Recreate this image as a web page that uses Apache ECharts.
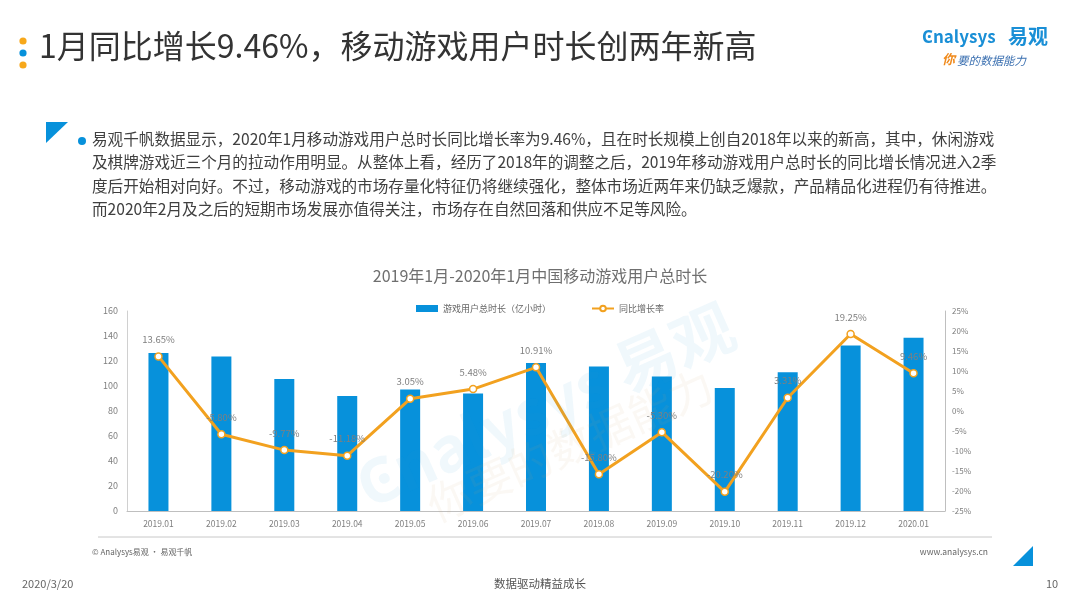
<!DOCTYPE html>
<html>
<head>
<meta charset="utf-8">
<script src="https://cdn.jsdelivr.net/npm/echarts@6/dist/echarts.min.js"></script>
<style>
  html, body { margin: 0; padding: 0; background: #fff; }
  #main { width: 1080px; height: 608px; }
</style>
</head>
<body>
<div id="main"></div>
<script>
// data
var months = ['2019.01', '2019.02', '2019.03', '2019.04', '2019.05', '2019.06', '2019.07',
              '2019.08', '2019.09', '2019.10', '2019.11', '2019.12', '2020.01'];
var hours = [126.4, 123.7, 105.6, 92.0, 97.3, 94.1, 118.4, 115.7, 107.7, 98.4, 111.0, 132.5, 138.6];
var growth = [13.65, -5.80, -9.77, -11.18, 3.05, 5.48, 10.91, -15.80, -5.30, -20.20, 3.31, 19.25, 9.46];
var leftTicks = { min: 0, max: 160, interval: 20 };
var rightTicks = { min: -25, max: 25, interval: 5 };

var para = [
  '易观千帆数据显示，2020年1月移动游戏用户总时长同比增长率为9.46%，且在时长规模上创自2018年以来的新高，其中，休闲游戏',
  '及棋牌游戏近三个月的拉动作用明显。从整体上看，经历了2018年的调整之后，2019年移动游戏用户总时长的同比增长情况进入2季',
  '度后开始相对向好。不过，移动游戏的市场存量化特征仍将继续强化，整体市场近两年来仍缺乏爆款，产品精品化进程仍有待推进。',
  '而2020年2月及之后的短期市场发展亦值得关注，市场存在自然回落和供应不足等风险。'
];

var font = '"Noto Sans CJK SC", "Noto Sans", sans-serif';
var blue = '#0791db';
var orange = '#f2a11f';
var gray = '#7f7f7f';

var paraText = para.map(function (t, i) {
  return {
    type: 'text', left: 92, top: 131 + i * 23.5,
    style: { text: t, fill: '#404040', font: '15.6px ' + font }
  };
});

var option = {
  animation: false,
  title: {
    text: '2019年1月-2020年1月中国移动游戏用户总时长',
    left: 'center', top: 263,
    textStyle: { fontFamily: font, fontSize: 16, fontWeight: 'normal', color: '#6f6f6f' }
  },
  legend: {
    top: 299, left: 'center',
    itemGap: 40, itemWidth: 22, itemHeight: 7,
    textStyle: { fontFamily: font, fontSize: 9, color: '#666' },
    data: [
      { name: '游戏用户总时长（亿小时）', icon: 'rect' },
      { name: '同比增长率' }
    ]
  },
  grid: { left: 127, right: 135, top: 311, bottom: 97 },
  xAxis: {
    type: 'category',
    data: months,
    axisLine: { lineStyle: { color: '#bfbfbf' } },
    axisTick: { show: false },
    axisLabel: { fontFamily: font, fontSize: 8.5, color: gray, margin: 9 }
  },
  yAxis: [
    {
      type: 'value', min: leftTicks.min, max: leftTicks.max, interval: leftTicks.interval,
      axisLine: { show: true, lineStyle: { color: '#d0d0d0' } },
      axisTick: { show: false },
      splitLine: { show: false },
      axisLabel: { fontFamily: font, fontSize: 9, color: gray, margin: 9 }
    },
    {
      type: 'value', min: rightTicks.min, max: rightTicks.max, interval: rightTicks.interval,
      axisLine: { show: true, lineStyle: { color: '#bfbfbf' } },
      axisTick: { show: false },
      splitLine: { show: false },
      axisLabel: { fontFamily: font, fontSize: 8, color: gray, margin: 7, formatter: '{value}%' }
    }
  ],
  series: [
    {
      name: '游戏用户总时长（亿小时）',
      type: 'bar',
      barWidth: 20,
      itemStyle: { color: blue },
      data: hours
    },
    {
      name: '同比增长率',
      type: 'line',
      yAxisIndex: 1,
      symbol: 'circle',
      symbolSize: 7,
      lineStyle: { color: orange, width: 3 },
      itemStyle: { color: '#fff', borderColor: orange, borderWidth: 1.5 },
      label: {
        show: true, position: 'top', distance: 8,
        fontFamily: font, fontSize: 9.5, color: gray,
        formatter: function (p) { return p.value.toFixed(2) + '%'; }
      },
      data: growth
    }
  ],
  graphic: [
    // header dots
    { type: 'circle', shape: { cx: 23, cy: 41, r: 3.6 }, style: { fill: '#f7a81b' } },
    { type: 'circle', shape: { cx: 23, cy: 53, r: 3.6 }, style: { fill: blue } },
    { type: 'circle', shape: { cx: 23, cy: 65, r: 3.6 }, style: { fill: '#f7a81b' } },
    {
      type: 'text', left: 39, top: 30,
      style: { text: '1月同比增长9.46%，移动游戏用户时长创两年新高', fill: '#333', font: '32px ' + font }
    },
    // logo
    {
      type: 'text', left: 922, top: 28,
      style: { text: 'Ͼnalysys', fill: '#1a8fd6', font: 'bold 17px ' + font }
    },
    {
      type: 'text', left: 1008, top: 26,
      style: { text: '易观', fill: '#1a8fd6', font: 'bold 20px ' + font }
    },
    {
      type: 'text', left: 942, top: 53,
      style: { text: '你', fill: '#f08a1c', font: 'italic bold 13px ' + font }
    },
    {
      type: 'text', left: 957, top: 55,
      style: { text: '要的数据能力', fill: '#3a6fb0', font: 'italic 11.5px ' + font }
    },
    // paragraph marker
    { type: 'polygon', shape: { points: [[46, 122], [68, 122], [46, 143]] }, style: { fill: blue } },
    { type: 'circle', shape: { cx: 82, cy: 141, r: 4 }, style: { fill: blue } }
  ].concat(paraText).concat([
    // watermark
    {
      type: 'text', x: 545, y: 405, rotation: 0.42, z: 50,
      style: { text: 'Ͼnalysys 易观', fill: 'rgba(40,150,215,0.07)', font: 'bold 62px ' + font, align: 'center', verticalAlign: 'middle' }
    },
    {
      type: 'text', x: 570, y: 445, rotation: 0.42, z: 50,
      style: { text: '你要的数据能力', fill: 'rgba(200,170,120,0.08)', font: '44px ' + font, align: 'center', verticalAlign: 'middle' }
    },
    // footer
    { type: 'line', shape: { x1: 98, y1: 537, x2: 992, y2: 537 }, style: { stroke: '#c8c8c8', lineWidth: 1 } },
    {
      type: 'text', left: 92, top: 548,
      style: { text: '© Analysys易观 · 易观千帆', fill: '#666', font: '8px ' + font }
    },
    {
      type: 'text', right: 92, top: 548,
      style: { text: 'www.analysys.cn', fill: '#666', font: '8.5px ' + font }
    },
    { type: 'polygon', shape: { points: [[1033, 546], [1033, 566], [1013, 566]] }, style: { fill: blue } },
    {
      type: 'text', left: 22, top: 578,
      style: { text: '2020/3/20', fill: '#666', font: '11px ' + font }
    },
    {
      type: 'text', left: 'center', top: 578,
      style: { text: '数据驱动精益成长', fill: '#555', font: '11.5px ' + font }
    },
    {
      type: 'text', left: 1046, top: 578,
      style: { text: '10', fill: '#666', font: '11px ' + font }
    }
  ])
};

echarts.init(document.getElementById('main')).setOption(option);
</script>
</body>
</html>
